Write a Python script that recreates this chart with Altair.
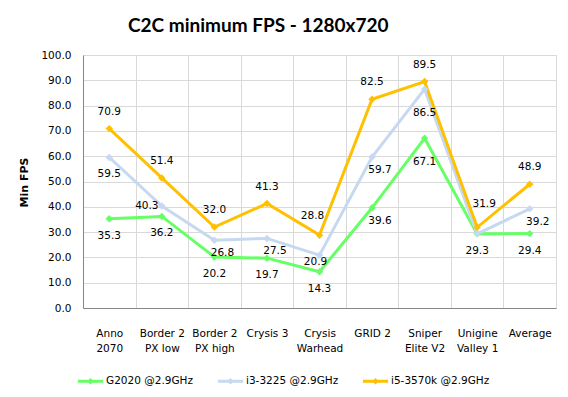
import altair as alt
import pandas as pd

categories = ["Anno\n2070", "Border 2\nPX low", "Border 2\nPX high", "Crysis 3",
              "Crysis\nWarhead", "GRID 2", "Sniper\nElite V2", "Unigine\nValley 1", "Average"]
series = ["G2020 @2.9GHz", "i3-3225 @2.9GHz", "i5-3570k @2.9GHz"]
colors = ["#66FF66", "#C6D9F1", "#FFC000"]

g2020 = [35.3, 36.2, 20.2, 19.7, 14.3, 39.6, 67.1, 29.3, 29.4]
i3 = [59.5, 40.3, 26.8, 27.5, 20.9, 59.7, 86.5, 29.3, 39.2]
i5 = [70.9, 51.4, 32.0, 41.3, 28.8, 82.5, 89.5, 31.9, 48.9]

# label placement (like Excel's per-label position choice)
g2020_pos = ["below", "below", "below", "below", "below", "belowright", "farbelow", "below", "below"]
i3_pos = ["below", "left", "belowright", "belowright", "lowleft", "belowright", "farbelow", "none", "belowright"]
i5_pos = ["above", "above", "above", "above", "aboveleft", "above", "above", "aboveright", "above"]

rows = []
for name, vals, poss in zip(series, [g2020, i3, i5], [g2020_pos, i3_pos, i5_pos]):
    for c, v, p in zip(categories, vals, poss):
        rows.append({"category": c, "series": name, "value": v, "pos": p})
df = pd.DataFrame(rows)

offsets = {
    "above": (0, -17), "below": (0, 17), "farbelow": (0, 24), "left": (-15, 0),
    "belowright": (8, 13), "lowleft": (-4, 7), "aboveleft": (-7, -19), "aboveright": (7, -23),
}

FONT = "DejaVu Sans"

x_enc = alt.X("category:N", sort=categories,
              scale=alt.Scale(type="band", paddingInner=0, paddingOuter=0),
              axis=alt.Axis(title=None, labelAngle=0, tickBand="extent", grid=True,
                            gridColor="#D9D9D9", ticks=False, domainColor="#868686",
                            labelExpr="isValid(datum.value) ? split(datum.value, '\\n') : ''",
                            labelLineHeight=15,
                            labelPadding=20, labelFont=FONT, labelFontSize=10.5,
                            labelColor="#000000", labelBaseline="top"))
y_enc = alt.Y("value:Q", scale=alt.Scale(domain=[0, 100]),
              axis=alt.Axis(title="Min FPS", values=list(range(0, 101, 10)), format=".1f",
                            grid=True, gridColor="#D9D9D9", ticks=False, domainColor="#868686",
                            labelFont=FONT, labelFontSize=10.5, labelColor="#000000",
                            labelPadding=12, titleFont=FONT, titleFontSize=11,
                            titleFontWeight="bold", titleColor="#000000",
                            titleX=-59, titleY=127, titleAlign="center", titleBaseline="middle",
                            titleAngle=270))

legend = alt.Legend(title=None, orient="none", direction="horizontal",
                    legendX=1.5, legendY=320,
                    symbolType="M-2.1,-0.25L2.1,-0.25L2.1,0.25L-2.1,0.25Z M-0.55,0L0,-0.55L0.55,0L0,0.55Z",
                    symbolSize=144, symbolStrokeWidth=0, symbolOpacity=1,
                    labelFont=FONT, labelFontSize=10.5, labelColor="#000000",
                    labelOffset=9.5, columnPadding=24)

base = alt.Chart(df).encode(x=x_enc, y=y_enc)

lines = base.mark_line(strokeWidth=3).encode(
    color=alt.Color("series:N", sort=series, scale=alt.Scale(domain=series, range=colors),
                    legend=None))
points = base.mark_point(shape="diamond", size=56, filled=True, opacity=1, strokeWidth=0).encode(
    color=alt.Color("series:N", sort=series, scale=alt.Scale(domain=series, range=colors),
                    legend=legend),
)

label_layers = []
for p, (dx, dy) in offsets.items():
    label_layers.append(
        base.transform_filter(alt.datum.pos == p)
        .mark_text(font=FONT, fontSize=10.5, color="#000000", dx=dx, dy=dy,
                   baseline="middle", align="center")
        .encode(text=alt.Text("value:Q", format=".1f"))
    )

chart = alt.layer(lines, points, *label_layers).resolve_legend(
    color="independent"
).properties(
    width=473, height=253,
    title=alt.TitleParams("C2C minimum FPS - 1280x720", anchor="start", frame="group",
                          dx=45, font="Lato", fontSize=19, fontWeight="bold",
                          color="#000000", offset=14),
    autosize=alt.AutoSizeParams(type="none"),
    padding={"left": 75, "top": 47, "right": 4, "bottom": 80},
).configure_view(stroke=None).configure(background="#FFFFFF")

chart.save("out.html", embed_options={"renderer": "svg", "actions": False})
